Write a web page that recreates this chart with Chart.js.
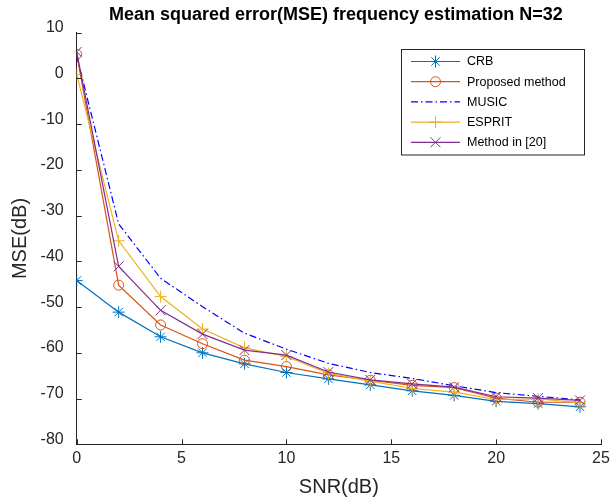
<!DOCTYPE html>
<html>
<head>
<meta charset="utf-8">
<script src="https://cdn.jsdelivr.net/npm/chart.js@4"></script>
<style>
  html, body { margin: 0; padding: 0; background: #ffffff; }
  #wrap { width: 610px; height: 502px; }
</style>
</head>
<body>
<div id="wrap"><canvas id="c" width="610" height="502"></canvas></div>
<script>
// ---- data ----
const TITLE = 'Mean squared error(MSE) frequency estimation N=32';
const X_LABEL = 'SNR(dB)';
const Y_LABEL = 'MSE(dB)';
const SNR = [0, 2, 4, 6, 8, 10, 12, 14, 16, 18, 20, 22, 24];
const CRB      = [-44.2, -51.1, -56.5, -60.0, -62.4, -64.3, -65.7, -67.0, -68.3, -69.3, -70.6, -71.1, -71.8];
const PROPOSED = [5.3, -45.2, -53.9, -58.0, -61.6, -63.0, -64.8, -66.0, -67.1, -67.6, -69.9, -70.8, -70.8];
const MUSIC    = [5.0, -31.8, -43.7, -49.9, -55.7, -59.2, -62.3, -64.3, -65.6, -67.2, -68.7, -69.5, -70.3];
const ESPRIT   = [0.9, -35.5, -47.7, -54.8, -58.9, -60.8, -64.5, -66.2, -67.8, -68.6, -70.2, -70.1, -70.9];
const METHOD20 = [5.8, -41.1, -50.7, -55.9, -59.4, -60.5, -64.2, -65.9, -66.8, -67.5, -69.6, -69.9, -70.4];
const SERIES_NAMES = ['CRB', 'Proposed method', 'MUSIC', 'ESPRIT', 'Method in [20]'];
const X_RANGE = [0, 25];
const Y_RANGE = [-80, 10];

const FONT = '"Liberation Sans", Arial, Helvetica, sans-serif';
const AXIS_COLOR = '#262626';

function pts(ys) { return ys.map((y, i) => ({ x: SNR[i], y: y })); }

const datasets = [
  { label: SERIES_NAMES[0], data: pts(CRB), borderColor: '#0072BD', backgroundColor: '#0072BD',
    pointStyle: 'star', pointRadius: 6, order: 5 },
  { label: SERIES_NAMES[1], data: pts(PROPOSED), borderColor: '#D95319', backgroundColor: 'rgba(0,0,0,0)',
    pointStyle: 'circle', pointRadius: 5, order: 4 },
  { label: SERIES_NAMES[2], data: pts(MUSIC), borderColor: '#0000FF', backgroundColor: '#0000FF',
    pointStyle: false, pointRadius: 0, borderDash: [7, 3, 1.5, 3], order: 3 },
  { label: SERIES_NAMES[3], data: pts(ESPRIT), borderColor: '#EDB120', backgroundColor: '#EDB120',
    pointStyle: 'cross', pointRadius: 6, order: 2 },
  { label: SERIES_NAMES[4], data: pts(METHOD20), borderColor: '#7E2F8E', backgroundColor: '#7E2F8E',
    pointStyle: 'crossRot', pointRadius: 7, order: 1 }
];
datasets.forEach(d => {
  d.borderWidth = 1.2;
  d.pointBorderWidth = 1;
  d.pointHoverRadius = d.pointRadius;
  d.tension = 0;
  d.fill = false;
});

// inward tick marks (MATLAB style)
const inwardTicks = {
  id: 'inwardTicks',
  afterDatasetsDraw(chart) {
    const ctx = chart.ctx;
    const a = chart.chartArea;
    const xs = chart.scales.x, ys = chart.scales.y;
    ctx.save();
    ctx.strokeStyle = AXIS_COLOR;
    ctx.lineWidth = 1;
    ctx.beginPath();
    xs.ticks.forEach(t => {
      const px = Math.round(xs.getPixelForValue(t.value)) + 0.5;
      ctx.moveTo(px, a.bottom);
      ctx.lineTo(px, a.bottom - 5);
    });
    ys.ticks.forEach(t => {
      const py = Math.round(ys.getPixelForValue(t.value)) + 0.5;
      ctx.moveTo(a.left, py);
      ctx.lineTo(a.left + 5, py);
    });
    ctx.stroke();
    ctx.restore();
  }
};

// title centred over the plot area
const plotTitle = {
  id: 'plotTitle',
  afterDraw(chart) {
    const ctx = chart.ctx;
    const a = chart.chartArea;
    ctx.save();
    ctx.fillStyle = '#000000';
    ctx.font = 'bold 18px ' + FONT;
    ctx.textAlign = 'center';
    ctx.textBaseline = 'alphabetic';
    ctx.fillText(TITLE, (a.left + a.right) / 2 - 3, 20);
    ctx.restore();
  }
};

// boxed legend inside the plot area (top right)
const boxLegend = {
  id: 'boxLegend',
  afterDraw(chart) {
    const ctx = chart.ctx;
    const bx = 401.5, by = 49.5, bw = 183, bh = 105.5;
    ctx.save();
    ctx.fillStyle = '#ffffff';
    ctx.fillRect(bx, by, bw, bh);
    ctx.strokeStyle = AXIS_COLOR;
    ctx.lineWidth = 1;
    ctx.strokeRect(bx, by, bw, bh);
    const rowY0 = 61.5, rowStep = 20.2;
    chart.data.datasets.forEach((ds, i) => {
      const y = rowY0 + i * rowStep;
      ctx.save();
      ctx.strokeStyle = ds.borderColor;
      ctx.lineWidth = ds.borderWidth;
      ctx.setLineDash(ds.borderDash || []);
      ctx.beginPath();
      ctx.moveTo(411, y);
      ctx.lineTo(460, y);
      ctx.stroke();
      ctx.restore();
      if (ds.pointStyle) {
        ctx.save();
        ctx.strokeStyle = ds.borderColor;
        ctx.fillStyle = ds.backgroundColor;
        ctx.lineWidth = ds.pointBorderWidth;
        Chart.helpers.drawPoint(ctx, { pointStyle: ds.pointStyle, radius: ds.pointRadius, borderWidth: ds.pointBorderWidth, rotation: 0 }, 435.5, y);
        ctx.restore();
      }
      ctx.fillStyle = '#000000';
      ctx.font = '12.5px ' + FONT;
      ctx.textAlign = 'left';
      ctx.textBaseline = 'middle';
      ctx.fillText(ds.label, 467, y + 0.5);
    });
    ctx.restore();
  }
};

new Chart(document.getElementById('c'), {
  type: 'line',
  data: { datasets: datasets },
  plugins: [inwardTicks, plotTitle, boxLegend],
  options: {
    responsive: false,
    animation: false,
    layout: { padding: { left: 0, top: 32.7, right: 9, bottom: 0 } },
    plugins: { legend: { display: false }, title: { display: false }, tooltip: { enabled: false } },
    scales: {
      x: {
        type: 'linear',
        min: X_RANGE[0], max: X_RANGE[1],
        grid: { display: false, drawTicks: false },
        border: { display: true, color: AXIS_COLOR, width: 1 },
        ticks: { stepSize: 5, color: AXIS_COLOR, font: { family: FONT, size: 16 }, padding: 5, maxRotation: 0 },
        title: { display: true, text: X_LABEL, color: AXIS_COLOR, font: { family: FONT, size: 20 }, padding: { top: 0, bottom: 3 } },
        afterFit(s) { s.height = 57.7; s.paddingLeft = 0; s.paddingRight = 0; }
      },
      y: {
        type: 'linear',
        min: Y_RANGE[0], max: Y_RANGE[1],
        grid: { display: false, drawTicks: false },
        border: { display: true, color: AXIS_COLOR, width: 1 },
        ticks: { stepSize: 10, color: AXIS_COLOR, font: { family: FONT, size: 16 }, padding: 13, labelOffset: -5 },
        title: { display: true, text: Y_LABEL, color: AXIS_COLOR, font: { family: FONT, size: 20 }, padding: { top: 8, bottom: 0 } },
        afterFit(s) { s.width = 76.7; s.paddingTop = 0; s.paddingBottom = 0; }
      }
    }
  }
});
</script>
</body>
</html>
